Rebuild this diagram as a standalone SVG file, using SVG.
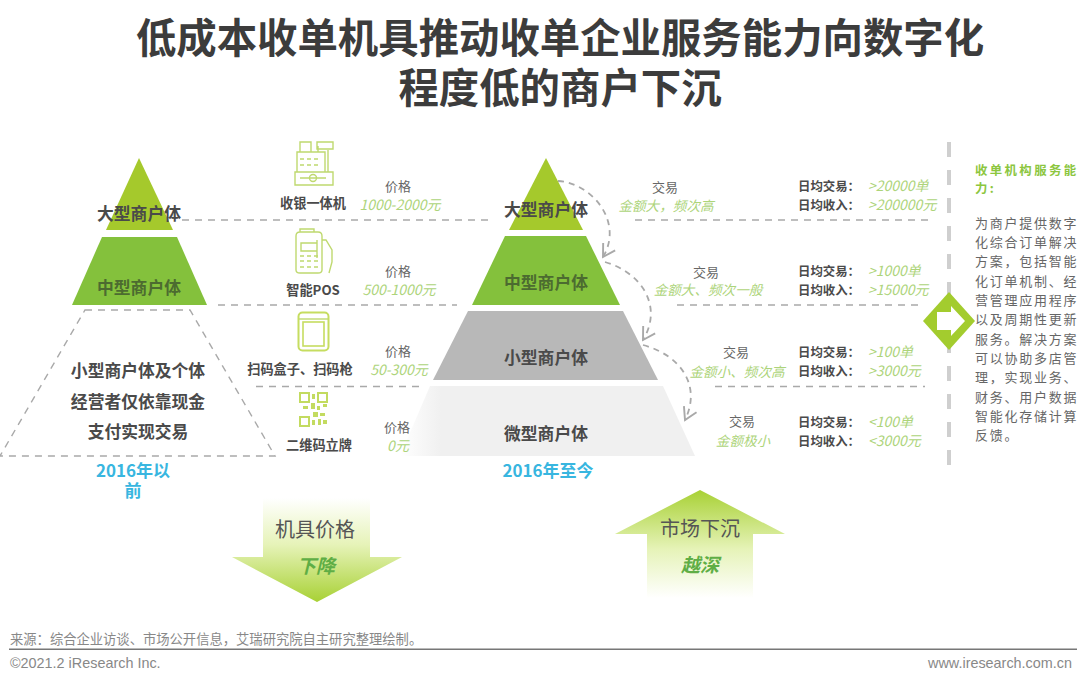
<svg xmlns="http://www.w3.org/2000/svg" width="1080" height="684" viewBox="0 0 1080 684">
<style>
text{font-family:"Noto Sans CJK SC","Liberation Sans",sans-serif}
.t{font-size:40.4px;font-weight:700;fill:#3c3c3c;text-anchor:middle}
.p{font-size:16.8px;font-weight:700;fill:#4a4a4a;text-anchor:middle}
.pg{font-size:16.8px;font-weight:700;fill:#4c6b30;text-anchor:middle}
.y{font-size:17px;font-weight:700;fill:#38b6e0;text-anchor:middle}
.n{font-size:13.2px;font-weight:700;fill:#4a4a4a;text-anchor:middle}
.l{font-size:13px;fill:#666;text-anchor:middle}
.g{font-size:14px;font-style:italic;fill:#add47a;text-anchor:middle}
.k{font-size:12.4px;font-weight:700;fill:#4a4a4a}
.v{font-size:14px;font-style:italic;fill:#add47a}
.h{font-size:12.4px;font-weight:700;fill:#8cc63f;letter-spacing:2.4px}
.b{font-size:13px;fill:#666;letter-spacing:1.75px}
.f{font-size:13.3px;fill:#888}
.fl{font-size:14.4px;fill:#888;font-family:"Liberation Sans",sans-serif}
.dash{fill:none;stroke:#a9a9a9;stroke-width:1.4;stroke-dasharray:7 6}
.ln{fill:none;stroke:#bfd96f;stroke-width:1.4}
.cv{fill:none;stroke:#a9a9a9;stroke-width:1.8;stroke-dasharray:6 5}
</style>
<defs>
<linearGradient id="down" x1="0" y1="0" x2="0" y2="1"><stop offset="0" stop-color="#fff"/><stop offset=".45" stop-color="#e6f3b8"/><stop offset="1" stop-color="#a8d135"/></linearGradient>
<linearGradient id="up" x1="0" y1="1" x2="0" y2="0"><stop offset="0" stop-color="#fff"/><stop offset=".45" stop-color="#e6f3b8"/><stop offset="1" stop-color="#a8d135"/></linearGradient>
<linearGradient id="micro" x1="0" y1="0" x2="1" y2="0"><stop offset="0" stop-color="#f0f0f0" stop-opacity="0"/><stop offset=".14" stop-color="#f0f0f0"/><stop offset="1" stop-color="#f0f0f0"/></linearGradient>
<marker id="open" viewBox="0 0 16 16" refX="14" refY="8" markerWidth="16" markerHeight="16" markerUnits="userSpaceOnUse" orient="auto"><path d="M2 1 L14 8 L2 15" fill="none" stroke="#a9a9a9" stroke-width="1.9"/></marker>
</defs>
<rect width="1080" height="684" fill="#fff"/>
<g id="title">
<text class="t" x="560" y="53">低成本收单机具推动收单企业服务能力向数字化</text>
<text class="t" x="560" y="103">程度低的商户下沉</text>
</g>
<g id="connectors">
<path class="dash" d="M182 220H492M635 220H930M218 305H457M677 305H922M256 386.5H421M715 386.5H925"/>
<path class="cv" d="M558 181C592 183 624 222 603 257" marker-end="url(#open)"/>
<path class="cv" d="M605 262C640 272 664 305 643 340" marker-end="url(#open)"/>
<path class="cv" d="M643 345C680 355 702 385 685 420" marker-end="url(#open)"/>
<path d="M949 142V470" fill="none" stroke="#cfcfcf" stroke-width="4" stroke-dasharray="15 13"/>
</g>
<g id="left-large"><path d="M139 158L173 230H106Z" fill="#a5c92c"/><text class="p" x="139" y="220">大型商户体</text></g>
<g id="left-medium"><path d="M102 237H177L207 305H72Z" fill="#84c13c"/><text class="pg" x="139" y="294">中型商户体</text></g>
<g id="left-small"><path class="dash" d="M85 310H190L275 456H0Z"/>
<text class="p" x="138" y="377">小型商户体及个体</text>
<text class="p" x="138" y="408">经营者仅依靠现金</text>
<text class="p" x="138" y="438">支付实现交易</text></g>
<g id="left-year"><text class="y" x="133" y="477">2016年以</text><text class="y" x="133" y="497">前</text></g>
<g id="icon-register">
<path class="ln" d="M295 172H333V185H295ZM297 172V152H325V172M300 152V142H311V152M318 152V146M328 172V150M317 142H333V149H317ZM300 178H326"/>
<circle class="ln" cx="313" cy="178" r="3.500"/>
<path class="ln" d="M300 159h4M307 159h4M314 159h4M300 165h4M307 165h4M314 165h4"/>
<text class="n" x="313" y="208">收银一体机</text></g>
<g id="icon-pos">
<path class="ln" d="M296 236Q296 232 300 232H318Q322 232 322 236V270Q322 273 318 273H300Q296 273 296 270ZM300 232V229H314V232M301 243H317V251H301ZM300 256h4M307 256h4M314 256h4M300 261h4M307 261h4M314 261h4M300 267h4M307 267h4M314 267h4M322 240H326L332 250V262L329 273M317 240V258"/>
<text class="n" x="313" y="295">智能POS</text></g>
<g id="icon-box">
<rect x="298.500" y="312.500" width="30" height="38" rx="4" fill="none" stroke="#c6dd60" stroke-width="2"/>
<rect x="303" y="322" width="21" height="24" fill="none" stroke="#c6dd60" stroke-width="1.600"/>
<path class="ln" d="M299 319H328"/>
<text class="n" x="300" y="374">扫码盒子、扫码枪</text></g>
<g id="icon-qr">
<path d="M300 393h9v9h-9ZM318 393h9v9h-9ZM300 417h9v9h-9Z" fill="none" stroke="#c3db60" stroke-width="2"/>
<path d="M312 394h3v5h-3ZM303 406h5v3h-5ZM311 403h4v6h-4ZM317 406h3v4h-3ZM323 404h4v3h-4ZM313 412h5v5h-5ZM320 413h5v3h-5ZM312 420h3v5h-3ZM318 419h3v6h-3ZM323 420h4v4h-4Z" fill="#c3db60"/>
<text class="n" x="319" y="450">二维码立牌</text></g>
<g id="center-micro"><path d="M430 386H663L695 456H400Z" fill="url(#micro)"/><text class="p" x="546" y="440">微型商户体</text></g>
<g id="price-1"><text class="l" x="398" y="191">价格</text><text class="g" x="400" y="210">1000-2000元</text></g>
<g id="price-2"><text class="l" x="398" y="276">价格</text><text class="g" x="399" y="295">500-1000元</text></g>
<g id="price-3"><text class="l" x="398" y="356">价格</text><text class="g" x="399" y="375">50-300元</text></g>
<g id="price-4"><text class="l" x="397" y="432">价格</text><text class="g" x="398" y="451">0元</text></g>
<g id="center-large"><path d="M546 158L583 230H509Z" fill="#a5c92c"/><text class="p" x="546" y="216">大型商户体</text></g>
<g id="center-medium"><path d="M505 236H586L620 305H472Z" fill="#84c13c"/><text class="pg" x="546" y="289">中型商户体</text></g>
<g id="center-small"><path d="M468 311H623L658 380H433Z" fill="#b8b8b8"/><text class="p" x="546" y="364">小型商户体</text></g>
<g id="center-year"><text class="y" x="548" y="477">2016年至今</text></g>
<g id="trade-1"><text class="l" x="665" y="192">交易</text><text class="g" x="666" y="211" style="font-size:13.6px">金额大，频次高</text></g>
<g id="trade-2"><text class="l" x="706" y="277">交易</text><text class="g" x="708" y="295" style="font-size:13.6px">金额大、频次一般</text></g>
<g id="trade-3"><text class="l" x="736" y="357">交易</text><text class="g" x="737" y="377" style="font-size:13.6px">金额小、频次高</text></g>
<g id="trade-4"><text class="l" x="742" y="426">交易</text><text class="g" x="743" y="446" style="font-size:13.6px">金额极小</text></g>
<g id="stats-1"><text class="k" x="798" y="191">日均交易：</text><text class="v" x="868" y="191">&gt;20000单</text><text class="k" x="798" y="210">日均收入：</text><text class="v" x="868" y="210">&gt;200000元</text></g>
<g id="stats-2"><text class="k" x="798" y="276">日均交易：</text><text class="v" x="868" y="276">&gt;1000单</text><text class="k" x="798" y="295">日均收入：</text><text class="v" x="868" y="295">&gt;15000元</text></g>
<g id="stats-3"><text class="k" x="798" y="357">日均交易：</text><text class="v" x="868" y="357">&gt;100单</text><text class="k" x="798" y="376">日均收入：</text><text class="v" x="868" y="376">&gt;3000元</text></g>
<g id="stats-4"><text class="k" x="798" y="427">日均交易：</text><text class="v" x="868" y="427">&lt;100单</text><text class="k" x="798" y="446">日均收入：</text><text class="v" x="868" y="446">&lt;3000元</text></g>
<g id="divider-arrow"><path d="M949 292L975 321L949 350L923 321Z" fill="#a3cc2e"/><path d="M937 312H951V306L965 321L951 336V330H937Z" fill="#fff"/></g>
<g id="capability">
<text class="h" x="975" y="175">收单机构服务能</text><text class="h" x="975" y="193">力:</text>
<text class="b" x="975" y="228">为商户提供数字</text>
<text class="b" x="975" y="247">化综合订单解决</text>
<text class="b" x="975" y="266">方案，包括智能</text>
<text class="b" x="975" y="285.500">化订单机制、经</text>
<text class="b" x="975" y="305">营管理应用程序</text>
<text class="b" x="975" y="324">以及周期性更新</text>
<text class="b" x="975" y="343.500">服务。解决方案</text>
<text class="b" x="975" y="363">可以协助多店管</text>
<text class="b" x="975" y="382">理，实现业务、</text>
<text class="b" x="975" y="401.500">财务、用户数据</text>
<text class="b" x="975" y="421">智能化存储计算</text>
<text class="b" x="975" y="440">反馈。</text>
</g>
<g id="arrow-price"><path d="M263 498H370V557H402L317 602L232 557H263Z" fill="url(#down)"/>
<text x="315" y="537" text-anchor="middle" font-size="20" fill="#555">机具价格</text>
<text x="316" y="573" text-anchor="middle" font-size="19" font-weight="700" font-style="italic" fill="#5fae45">下降</text></g>
<g id="arrow-market"><path d="M700 490L785 534H753V598H647V534H615Z" fill="url(#up)"/>
<text x="700" y="536" text-anchor="middle" font-size="20" fill="#555">市场下沉</text>
<text x="700" y="572" text-anchor="middle" font-size="19" font-weight="700" font-style="italic" fill="#5fae45">越深</text></g>
<g id="footer">
<text class="f" x="10" y="644">来源：综合企业访谈、市场公开信息，艾瑞研究院自主研究整理绘制。</text>
<rect x="9" y="648.500" width="1068" height="1.500" fill="#777"/>
<text class="fl" x="10" y="668">©2021.2 iResearch Inc.</text>
<text class="fl" x="1072" y="668" text-anchor="end">www.iresearch.com.cn</text>
</g>
</svg>
